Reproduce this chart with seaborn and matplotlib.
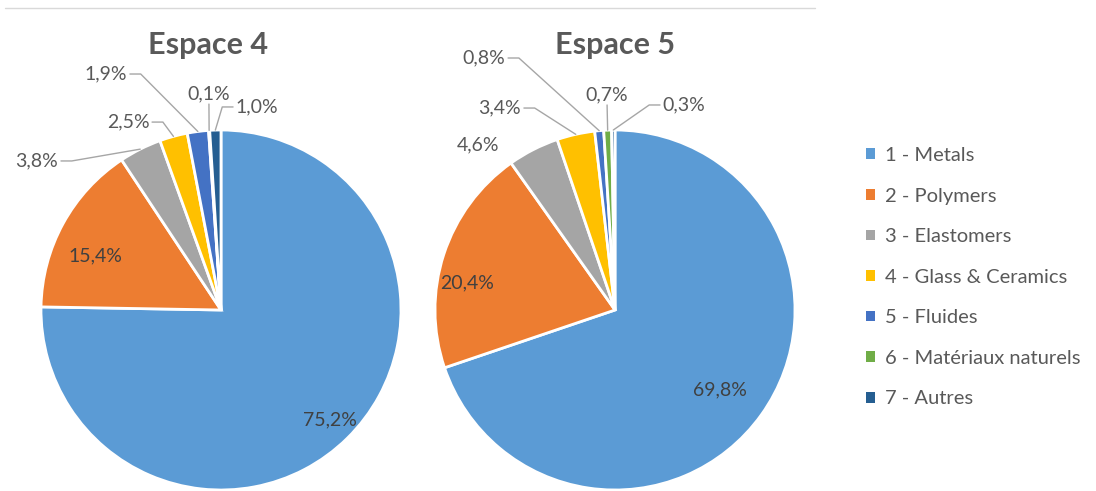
import numpy as np
import matplotlib
matplotlib.use("Agg")
import matplotlib.pyplot as plt
from matplotlib.patches import Patch
from matplotlib.lines import Line2D
import seaborn as sns

# ---------------- data ----------------
categories = ["1 - Metals", "2 - Polymers", "3 - Elastomers", "4 - Glass & Ceramics",
              "5 - Fluides", "6 - Matériaux naturels", "7 - Autres"]
espace4 = [75.2, 15.4, 3.8, 2.5, 1.9, 0.1, 1.0]
espace5 = [69.8, 20.4, 4.6, 3.4, 0.8, 0.7, 0.3]
titles = ["Espace 4", "Espace 5"]
colors = ["#5B9BD5", "#ED7D31", "#A5A5A5", "#FFC000", "#4472C4", "#70AD47", "#255E91"]

# label placement (axes data units, pie radius = 1); side: I=inside, L=left of leader,
# R=right of leader, B=above leader, N=outside without leader
place4 = [((0.606, -0.611), "I"), ((-0.70, 0.30), "I"), ((-0.889, 0.828), "L"),
          ((-0.383, 1.044), "L"), ((-0.506, 1.311), "L"), ((-0.067, 1.144), "B"),
          ((0.067, 1.128), "R")]
place5 = [((0.583, -0.444), "I"), ((-0.822, 0.15), "I"), ((-0.761, 0.917), "N"),
          ((-0.506, 1.122), "L"), ((-0.594, 1.40), "L"), ((-0.044, 1.139), "B"),
          ((0.25, 1.139), "R")]
title_pos = [(-0.072, 1.472), (0.0, 1.472)]

sns.set_theme(style="white")
plt.rcParams["font.family"] = ["Lato", "DejaVu Sans"]

W, H = 1096, 491
fig = plt.figure(figsize=(W / 100, H / 100), dpi=100)
fig.patch.set_facecolor("white")

R = 180
centers = [(221, 310), (615, 310)]
TXT = "#595959"
LINE = "#A6A6A6"
FS = 14

def fmt(v):
    return f"{v:.1f}%".replace(".", ",")

for k, (vals, place) in enumerate([(espace4, place4), (espace5, place5)]):
    cx, cy = centers[k]
    ax = fig.add_axes([(cx - R) / W, (H - cy - R) / H, 2 * R / W, 2 * R / H])
    wedges, _ = ax.pie(vals, colors=colors, startangle=90, counterclock=False,
                       radius=1.0, wedgeprops=dict(edgecolor="white", linewidth=2))
    ax.set_xlim(-1, 1)
    ax.set_ylim(-1, 1)
    ax.set_aspect("equal")
    ax.set_axis_off()
    total = sum(vals)
    cum = np.cumsum([0] + list(vals))
    for i, v in enumerate(vals):
        (x, y), side = place[i]
        mid = np.deg2rad(90 - 360 * (cum[i] + v / 2) / total)
        px, py = np.cos(mid), np.sin(mid)
        s = fmt(v)
        if side == "I":
            ax.text(x, y, s, ha="center", va="center", fontsize=FS, color="#404040")
        elif side == "N":
            ax.text(x, y, s, ha="center", va="center", fontsize=FS, color=TXT, clip_on=False)
        elif side == "L":
            ax.text(x - 0.015, y, s, ha="right", va="center", fontsize=FS, color=TXT, clip_on=False)
            ax.plot([x, x + 0.06, px], [y, y, py], color=LINE, lw=1, clip_on=False,
                    solid_joinstyle="miter")
        elif side == "R":
            ax.text(x + 0.015, y, s, ha="left", va="center", fontsize=FS, color=TXT, clip_on=False)
            ax.plot([x, x - 0.06, px], [y, y, py], color=LINE, lw=1, clip_on=False)
        elif side == "B":
            ax.text(x, y + 0.01, s, ha="center", va="bottom", fontsize=FS, color=TXT, clip_on=False)
            ax.plot([x, px], [y, py], color=LINE, lw=1, clip_on=False)
    tx, ty = title_pos[k]
    ax.text(tx, ty, titles[k], ha="center", va="center", fontsize=22, fontweight="bold",
            color=TXT, clip_on=False)

# top border line
fig.add_artist(Line2D([5 / W, 815 / W], [1 - 8 / H, 1 - 8 / H], color="#D9D9D9", lw=1))

handles = [Patch(facecolor=c, edgecolor="none") for c in colors]
leg = fig.legend(handles, categories, loc="upper left", bbox_to_anchor=(866 / W, 1 - 147 / H),
                 frameon=False, fontsize=14.5, handlelength=0.45, handleheight=0.45,
                 handletextpad=0.5, labelspacing=1.17, borderaxespad=0, borderpad=0)
for t in leg.get_texts():
    t.set_color(TXT)

fig.savefig("out.png", dpi=100, facecolor="white")
